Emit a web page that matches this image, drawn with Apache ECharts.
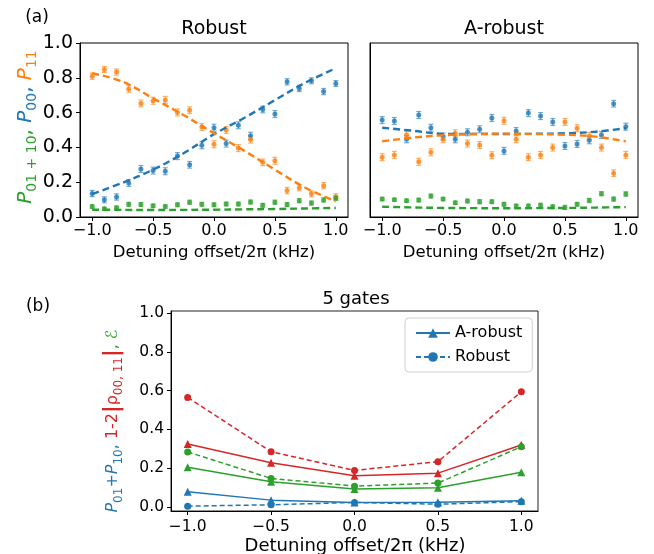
<!DOCTYPE html>
<html><head><meta charset="utf-8">
<script src="https://cdn.jsdelivr.net/npm/echarts@6/dist/echarts.min.js"></script>
<style>html,body{margin:0;padding:0;background:#fff}#c{width:654px;height:554px}</style>
</head><body><div id="c"></div><script>
// ---------- data (a) ----------
const detuning = [-1.0,-0.9,-0.8,-0.7,-0.6,-0.5,-0.4,-0.3,-0.2,-0.1,0.0,0.1,0.2,0.3,0.4,0.5,0.6,0.7,0.8,0.9,1.0];
const robustP00  = [0.135,0.099,0.115,0.195,0.276,0.267,0.263,0.350,0.300,0.412,0.513,0.422,0.527,0.467,0.618,0.592,0.777,0.739,0.783,0.721,0.767];
const robustP11  = [0.809,0.848,0.833,0.736,0.653,0.668,0.673,0.601,0.614,0.517,0.418,0.500,0.396,0.445,0.314,0.323,0.152,0.168,0.133,0.180,0.117];
const robustLeak = [0.060,0.047,0.053,0.073,0.072,0.064,0.060,0.070,0.085,0.073,0.070,0.075,0.075,0.086,0.067,0.085,0.072,0.094,0.080,0.098,0.108];
const robustErr  = [0.018,0.017,0.018,0.019,0.020,0.020,0.020,0.020,0.019,0.020,0.020,0.020,0.020,0.020,0.019,0.020,0.018,0.018,0.017,0.018,0.017];
const leakErrTop = [0.010,0.009,0.010,0.011,0.011,0.010,0.010,0.011,0.012,0.011,0.011,0.011,0.011,0.012,0.011,0.012,0.011,0.012,0.012,0.012,0.013];

const arobustP00  = [0.557,0.552,0.447,0.586,0.513,0.462,0.447,0.487,0.504,0.569,0.380,0.494,0.597,0.580,0.546,0.408,0.420,0.441,0.471,0.651,0.519];
const arobustP11  = [0.344,0.357,0.471,0.317,0.372,0.447,0.481,0.422,0.414,0.355,0.553,0.447,0.344,0.357,0.399,0.546,0.510,0.466,0.399,0.252,0.357];
const arobustLeak = [0.103,0.099,0.094,0.097,0.120,0.103,0.082,0.092,0.088,0.088,0.073,0.063,0.063,0.067,0.059,0.055,0.073,0.095,0.134,0.103,0.132];
const arobustErr  = [0.020,0.020,0.020,0.020,0.020,0.020,0.020,0.020,0.020,0.020,0.020,0.020,0.020,0.020,0.020,0.020,0.020,0.020,0.020,0.019,0.020];

const fitX = [-1.0,-0.75,-0.5,-0.25,0.0,0.25,0.5,0.75,1.0];
const robustFitP00  = [0.132,0.197,0.272,0.366,0.476,0.570,0.672,0.772,0.855];
const robustFitP11  = [0.826,0.778,0.682,0.586,0.481,0.380,0.272,0.168,0.090];
const robustFitLeak = [0.042,0.041,0.040,0.041,0.042,0.044,0.046,0.049,0.052];
const arobustFitP00  = [0.513,0.496,0.478,0.477,0.477,0.478,0.481,0.490,0.510];
const arobustFitP11  = [0.435,0.456,0.470,0.477,0.479,0.477,0.473,0.462,0.435];
const arobustFitLeak = [0.059,0.055,0.052,0.051,0.050,0.051,0.052,0.054,0.057];

// ---------- data (b) ----------
const gateX = [-1.0,-0.5,0.0,0.5,1.0];
const robustInfid  = [0.565,0.285,0.189,0.234,0.594];
const arobustInfid = [0.325,0.228,0.161,0.175,0.320];
const robustE      = [0.284,0.148,0.108,0.124,0.311];
const arobustE     = [0.205,0.131,0.093,0.100,0.179];
const arobustLeakB = [0.079,0.036,0.024,0.025,0.033];
const robustLeakB  = [0.005,0.012,0.024,0.015,0.028];
const infidErr = [0.014,0.012,0.012,0.012,0.014];
const smallErr = [0.008,0.008,0.008,0.008,0.008];

const xTicks = [-1.0,-0.5,0.0,0.5,1.0];
const yTicks = [0.0,0.2,0.4,0.6,0.8,1.0];

// ---------- styling ----------
const C = {blue:'#1f77b4', orange:'#ff7f0e', green:'#2ca02c', red:'#d62728'};
const F = '"DejaVu Sans", sans-serif';
const fmt = v => (v < -1e-9 ? '\u2212' : '') + Math.abs(v).toFixed(1);

function pts(xs, ys){ return xs.map((x,i)=>[x, ys[i]]); }
function epts(xs, ys, es){ return xs.map((x,i)=>[x, ys[i], es[i]]); }

function errSeries(idx, data, color, cap, width, opacity){
  return {type:'custom', xAxisIndex:idx, yAxisIndex:idx, data:data, silent:true, z:3,
    encode:{x:0, y:1},
    renderItem:(p, api)=>{
      const x=api.value(0), y=api.value(1), e=api.value(2);
      const a=api.coord([x,y+e]), b=api.coord([x,y-e]);
      const st={stroke:color, lineWidth:width, opacity:opacity};
      return {type:'group', children:[
        {type:'line', shape:{x1:a[0],y1:a[1],x2:b[0],y2:b[1]}, style:st},
        {type:'line', shape:{x1:a[0]-cap,y1:a[1],x2:a[0]+cap,y2:a[1]}, style:st},
        {type:'line', shape:{x1:b[0]-cap,y1:b[1],x2:b[0]+cap,y2:b[1]}, style:st}
      ]};
    }};
}
function scat(idx, data, color){
  return {type:'scatter', xAxisIndex:idx, yAxisIndex:idx, data:data, symbolSize:5,
    itemStyle:{color:color}, z:4, silent:true};
}
function fit(idx, data, color){
  return {type:'line', xAxisIndex:idx, yAxisIndex:idx, data:data, smooth:0.35, showSymbol:false,
    lineStyle:{color:color, width:2.4, type:[7,4]}, z:5, silent:true};
}
function gline(name, data, color, solid){
  return {type:'line', name:name, xAxisIndex:2, yAxisIndex:2, data:data,
    symbol: solid ? 'triangle' : 'circle', symbolSize: solid ? 8 : 7, showSymbol:true,
    itemStyle:{color:color}, lineStyle:{color:color, width:1.5, type: solid ? 'solid' : [5,3]},
    z:4, silent:true};
}

function xAx(grid, fs, margin){
  return {type:'value', gridIndex:grid, min:-1.1, max:1.1,
    axisLine:{show:true, onZero:false, lineStyle:{color:'#000', width:1}},
    axisTick:{show:true, customValues:xTicks, length:4, lineStyle:{color:'#000'}},
    axisLabel:{customValues:xTicks, formatter:fmt, color:'#000', fontSize:fs, fontFamily:F, margin:margin},
    splitLine:{show:false}};
}
function yAx(grid, min, max, showLab, fs){
  return {type:'value', gridIndex:grid, min:min, max:max,
    axisLine:{show:true, onZero:false, lineStyle:{color:'#000', width:1}},
    axisTick:{show:showLab, customValues:yTicks, length:4, lineStyle:{color:'#000'}},
    axisLabel:{show:showLab, customValues:yTicks, formatter:v=>v.toFixed(1), color:'#000', fontSize:fs, fontFamily:F, margin:7},
    splitLine:{show:false}};
}

const series = [
  // (a) Robust
  errSeries(0, epts(detuning, robustP00, robustErr), C.blue, 2.5, 1.2, 0.6),
  errSeries(0, epts(detuning, robustP11, robustErr), C.orange, 2.5, 1.2, 0.6),
  errSeries(0, epts(detuning, robustLeak, leakErrTop), C.green, 2.5, 1.2, 0.6),
  scat(0, pts(detuning, robustP00), C.blue),
  scat(0, pts(detuning, robustP11), C.orange),
  scat(0, pts(detuning, robustLeak), C.green),
  fit(0, pts(fitX, robustFitP00), C.blue),
  fit(0, pts(fitX, robustFitP11), C.orange),
  fit(0, pts(fitX, robustFitLeak), C.green),
  // (a) A-robust
  errSeries(1, epts(detuning, arobustP00, arobustErr), C.blue, 2.5, 1.2, 0.6),
  errSeries(1, epts(detuning, arobustP11, arobustErr), C.orange, 2.5, 1.2, 0.6),
  errSeries(1, epts(detuning, arobustLeak, leakErrTop), C.green, 2.5, 1.2, 0.6),
  scat(1, pts(detuning, arobustP00), C.blue),
  scat(1, pts(detuning, arobustP11), C.orange),
  scat(1, pts(detuning, arobustLeak), C.green),
  fit(1, pts(fitX, arobustFitP00), C.blue),
  fit(1, pts(fitX, arobustFitP11), C.orange),
  fit(1, pts(fitX, arobustFitLeak), C.green),
  // (b)
  gline('A-robust', pts(gateX, arobustLeakB), C.blue, true),
  gline('Robust', pts(gateX, robustLeakB), C.blue, false),
  gline('A-robust infidelity', pts(gateX, arobustInfid), C.red, true),
  gline('Robust infidelity', pts(gateX, robustInfid), C.red, false),
  gline('A-robust E', pts(gateX, arobustE), C.green, true),
  gline('Robust E', pts(gateX, robustE), C.green, false),
  errSeries(2, epts(gateX, robustInfid, infidErr), C.red, 0, 1.5, 0.9),
  errSeries(2, epts(gateX, arobustInfid, infidErr), C.red, 0, 1.5, 0.9),
  errSeries(2, epts(gateX, robustE, smallErr), C.green, 0, 1.5, 0.9),
  errSeries(2, epts(gateX, arobustE, smallErr), C.green, 0, 1.5, 0.9),
  errSeries(2, epts(gateX, robustLeakB, smallErr), C.blue, 0, 1.5, 0.9),
  errSeries(2, epts(gateX, arobustLeakB, smallErr), C.blue, 0, 1.5, 0.9)
];

function txt(x, y, text, fs){
  return {type:'text', x:x, y:y, silent:true,
    style:{text:text, fontSize:fs, fontFamily:F, fill:'#000', align:'center', verticalAlign:'middle'}};
}

const subTop = {fontSize:14, lineHeight:13, verticalAlign:'bottom', fontFamily:F};
const mainTop = {fontSize:20, lineHeight:27, fontFamily:F};
const subBot = {fontSize:12, lineHeight:11, verticalAlign:'bottom', fontFamily:F};
const mainBot = {fontSize:16, lineHeight:23, fontFamily:F};

const graphic = [
  txt(37, 18, '(a)', 17),
  txt(214, 29, 'Robust', 19),
  txt(504, 29, 'A-robust', 19),
  txt(214, 253, 'Detuning offset/2\u03c0 (kHz)', 16.5),
  txt(504, 253, 'Detuning offset/2\u03c0 (kHz)', 16.5),
  txt(38, 307, '(b)', 17),
  txt(356, 299, '5 gates', 18),
  txt(355, 546, 'Detuning offset/2\u03c0 (kHz)', 18),
  {type:'text', x:26, y:127, rotation:Math.PI/2, silent:true,
    style:{align:'center', verticalAlign:'middle',
      text:'{gp|P}{gs|01 + 10}{g|, }{bp|P}{bs|00}{b|, }{op|P}{os|11}',
      rich:{
        gp:Object.assign({fill:C.green, fontStyle:'italic'}, mainTop),
        g:Object.assign({fill:C.green}, mainTop),
        gs:Object.assign({fill:C.green}, subTop),
        bp:Object.assign({fill:C.blue, fontStyle:'italic'}, mainTop),
        b:Object.assign({fill:C.blue}, mainTop),
        bs:Object.assign({fill:C.blue}, subTop),
        op:Object.assign({fill:C.orange, fontStyle:'italic'}, mainTop),
        os:Object.assign({fill:C.orange}, subTop)
      }}},
  {type:'text', x:113, y:421, rotation:Math.PI/2, silent:true,
    style:{align:'center', verticalAlign:'middle',
      text:'{bp|P}{bs|01}{b|+}{bp|P}{bs|10}{b|, }{r|1-2}{rb||}{r|\u03c1}{rs|00, 11}{rb||}{g|, }{ge|\u2130}',
      rich:{
        bp:Object.assign({fill:C.blue, fontStyle:'italic'}, mainBot),
        b:Object.assign({fill:C.blue}, mainBot),
        bs:Object.assign({fill:C.blue}, subBot),
        r:Object.assign({fill:C.red}, mainBot),
        rb:Object.assign({fill:C.red, fontWeight:'bold'}, mainBot, {fontSize:21}),
        rs:Object.assign({fill:C.red}, subBot),
        g:Object.assign({fill:C.green}, mainBot),
        ge:Object.assign({fill:C.green, fontStyle:'italic'}, mainBot)
      }}}
];

const option = {
  animation:false,
  backgroundColor:'#fff',
  grid:[
    {left:80, top:43, width:268, height:174, show:true, borderColor:'#000', borderWidth:1, backgroundColor:'transparent'},
    {left:370, top:43, width:268, height:174, show:true, borderColor:'#000', borderWidth:1, backgroundColor:'transparent'},
    {left:171, top:311, width:367, height:200, show:true, borderColor:'#222', borderWidth:1, backgroundColor:'transparent'}
  ],
  xAxis:[ xAx(0, 16, 6), xAx(1, 16, 6), xAx(2, 15.5, 8) ],
  yAxis:[ yAx(0, 0, 1, true, 19), yAx(1, 0, 1, false, 19), yAx(2, -0.02, 1.01, true, 15.5) ],
  legend:{data:['A-robust','Robust'], orient:'vertical', left:405, top:318,
    itemWidth:34, itemHeight:12, itemGap:8,
    textStyle:{fontSize:16, fontFamily:F, color:'#000'},
    backgroundColor:'#fff', borderColor:'#d0d0d0', borderWidth:1, borderRadius:4,
    padding:[7,10,7,10], selectedMode:false},
  series:series,
  graphic:graphic
};
const chart = echarts.init(document.getElementById('c'), null, {renderer:'canvas'});
chart.setOption(option);
</script></body></html>
